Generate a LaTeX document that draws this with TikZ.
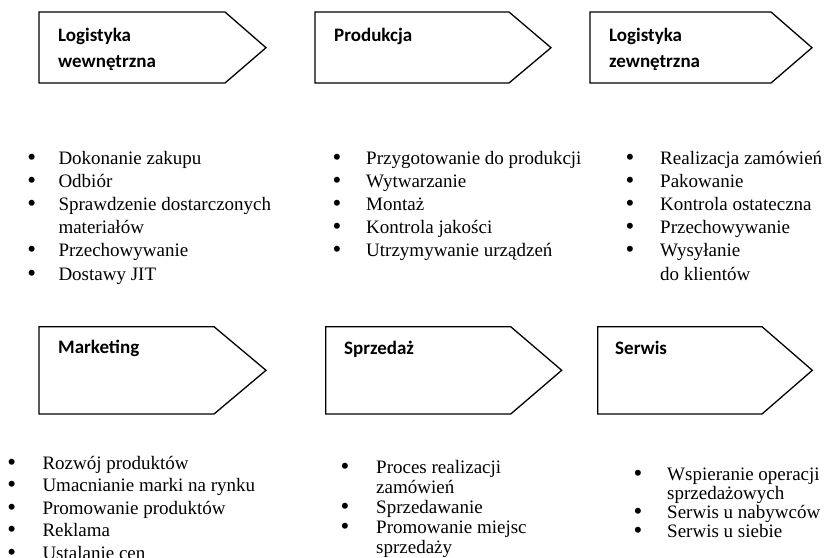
\documentclass[tikz,border=0pt]{standalone}
\usepackage{fontspec}
\setmainfont{Liberation Serif}
\newfontfamily\hdrfont{Carlito}
\begin{document}
\begin{tikzpicture}[x=1pt,y=-1pt,
  chev/.style={draw,line width=1.3pt,line join=miter},
  hdr/.style={anchor=base west,inner sep=0,font=\hdrfont\bfseries\fontsize{19}{23}\selectfont},
  itm/.style={anchor=base west,inner sep=0,font=\fontsize{19}{23}\selectfont},
  bul/.style={anchor=base,inner sep=0,yshift=-1pt,font=\fontsize{25}{25}\selectfont}]
\useasboundingbox (0,0) rectangle (826,557);

% ---------- top row chevrons ----------
\draw[chev] (39,12) -- (225,12) -- (266,47.7) -- (225,83) -- (39,83) -- cycle;
\draw[chev] (315,12) -- (509,12) -- (551,47.7) -- (509,83) -- (315,83) -- cycle;
\draw[chev] (590,12) -- (771,12) -- (812,47.7) -- (771,83) -- (590,83) -- cycle;

\node[hdr] (h1a) at (58,41.3) {Logistyka};
\node[hdr] (h1b) at (58,67.5) {wewnętrzna};
\node[hdr] (h2) at (334,41.3) {Produkcja};
\node[hdr] (h3a) at (609,41.3) {Logistyka};
\node[hdr] (h3b) at (609,67.5) {zewnętrzna};

% ---------- bottom row chevrons ----------
\draw[chev] (39,326.7) -- (214,326.7) -- (266,370.3) -- (214,414) -- (39,414) -- cycle;
\draw[chev] (325.7,326.7) -- (510.7,326.7) -- (561.7,370.3) -- (510.7,414) -- (325.7,414) -- cycle;
\draw[chev] (597.7,326.7) -- (762,326.7) -- (812.3,370.3) -- (762,414) -- (597.7,414) -- cycle;

\node[hdr] (h4) at (58,353.5) {Marketing};
\node[hdr] (h5) at (344,354) {Sprzedaż};
\node[hdr] (h6) at (615,354) {Serwis};

% ---------- list 1 ----------
\node[bul] (b1a) at (31.7,164) {•};   \node[itm] (t1a) at (58.3,164) {Dokonanie zakupu};
\node[bul] (b1b) at (31.7,187.2) {•}; \node[itm] (t1b) at (58.3,187.2) {Odbiór};
\node[bul] (b1c) at (31.7,210.4) {•}; \node[itm] (t1c) at (58.3,210.4) {Sprawdzenie dostarczonych};
                                      \node[itm] (t1d) at (58.3,233.6) {materiałów};
\node[bul] (b1e) at (31.7,256.8) {•}; \node[itm] (t1e) at (58.3,256.8) {Przechowywanie};
\node[bul] (b1f) at (31.7,280) {•};   \node[itm] (t1f) at (58.3,280) {Dostawy JIT};

% ---------- list 2 ----------
\node[bul] (b2a) at (337,164) {•};   \node[itm] (t2a) at (366,164) {Przygotowanie do produkcji};
\node[bul] (b2b) at (337,187.2) {•}; \node[itm] (t2b) at (366,187.2) {Wytwarzanie};
\node[bul] (b2c) at (337,210.4) {•}; \node[itm] (t2c) at (366,210.4) {Montaż};
\node[bul] (b2d) at (337,233.6) {•}; \node[itm] (t2d) at (366,233.6) {Kontrola jakości};
\node[bul] (b2e) at (337,256.8) {•}; \node[itm] (t2e) at (366,256.8) {Utrzymywanie urządzeń};

% ---------- list 3 ----------
\node[bul] (b3a) at (630,164) {•};   \node[itm] (t3a) at (660,164) {Realizacja zamówień};
\node[bul] (b3b) at (630,187.2) {•}; \node[itm] (t3b) at (660,187.2) {Pakowanie};
\node[bul] (b3c) at (630,210.4) {•}; \node[itm] (t3c) at (660,210.4) {Kontrola ostateczna};
\node[bul] (b3d) at (630,233.6) {•}; \node[itm] (t3d) at (660,233.6) {Przechowywanie};
\node[bul] (b3e) at (630,256.8) {•}; \node[itm] (t3e) at (660,256.8) {Wysyłanie};
                                     \node[itm] (t3f) at (660,280) {do klientów};

% ---------- list 4 ----------
\node[bul] (b4a) at (11.7,469) {•};   \node[itm] (t4a) at (42.3,469) {Rozwój produktów};
\node[bul] (b4b) at (11.7,491.5) {•}; \node[itm] (t4b) at (42.3,491.5) {Umacnianie marki na rynku};
\node[bul] (b4c) at (11.7,514) {•};   \node[itm] (t4c) at (42.3,514) {Promowanie produktów};
\node[bul] (b4d) at (11.7,536.5) {•}; \node[itm] (t4d) at (42.3,536.5) {Reklama};
\node[bul] (b4e) at (11.7,559) {•};   \node[itm] (t4e) at (42.3,559) {Ustalanie cen};

% ---------- list 5 ----------
\node[bul] (b5a) at (345,473) {•};   \node[itm] (t5a) at (376,473) {Proces realizacji};
                                     \node[itm] (t5b) at (376,493) {zamówień};
\node[bul] (b5c) at (345,513) {•};   \node[itm] (t5c) at (376,513) {Sprzedawanie};
\node[bul] (b5d) at (345,533) {•};   \node[itm] (t5d) at (376,533) {Promowanie miejsc};
                                     \node[itm] (t5e) at (376,553) {sprzedaży};

% ---------- list 6 ----------
\node[bul] (b6a) at (638,480) {•};   \node[itm] (t6a) at (667,480) {Wspieranie operacji};
                                     \node[itm] (t6b) at (667,499) {sprzedażowych};
\node[bul] (b6c) at (638,518) {•};   \node[itm] (t6c) at (667,518) {Serwis u nabywców};
\node[bul] (b6d) at (638,537) {•};   \node[itm] (t6d) at (667,537) {Serwis u siebie};
\end{tikzpicture}
\end{document}
